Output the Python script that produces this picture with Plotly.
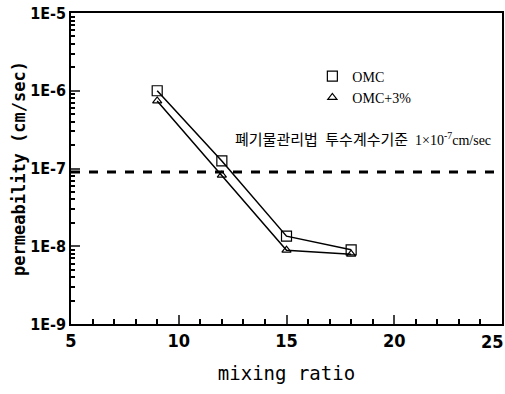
import plotly.graph_objects as go

mixing_ratio = [9, 12, 15, 18]
omc = [1.0e-6, 1.25e-7, 1.35e-8, 9.0e-9]
omc3 = [7.4e-7, 8.2e-8, 8.9e-9, 7.9e-9]
standard_x = [5, 25]
standard_y = [9.0e-8, 9.0e-8]
x_ticks = [5, 10, 15, 20, 25]
x_ticktext = ["5", "10", "15", "20", "25"]
y_tickvals = [1e-9, 1e-8, 1e-7, 1e-6, 1e-5]
y_ticktext = ["1E-9", "1E-8", "1E-7", "1E-6", "1E-5"]
y_minor = [m * 10.0 ** e for e in range(-9, -5) for m in range(2, 10)]

cond = "DejaVu Sans Condensed, Liberation Sans Narrow, Arial Narrow, sans-serif"
tickfont_x = dict(family=cond, size=18, color="black", weight="bold")

fig = go.Figure()
fig.add_trace(go.Scatter(x=standard_x, y=standard_y, mode="lines",
                         line=dict(color="black", width=3, dash="dash"),
                         showlegend=False))
fig.add_trace(go.Scatter(x=mixing_ratio, y=omc, mode="lines+markers", name="OMC",
                         line=dict(color="black", width=1.5), showlegend=False,
                         marker=dict(symbol="square-open", size=10, color="black",
                                     line=dict(width=1.2))))
fig.add_trace(go.Scatter(x=mixing_ratio, y=omc3, mode="lines+markers", name="OMC+3%",
                         line=dict(color="black", width=1.5), showlegend=False,
                         marker=dict(symbol="triangle-up-open", size=8, color="black",
                                     line=dict(width=1.2))))
# legend-only entries (markers only, as in the reference legend)
fig.add_trace(go.Scatter(x=[None], y=[None], mode="markers", name="OMC",
                         marker=dict(symbol="square-open", size=10, color="black",
                                     line=dict(width=1.2))))
fig.add_trace(go.Scatter(x=[None], y=[None], mode="markers", name="OMC+3%",
                         marker=dict(symbol="triangle-up-open", size=8, color="black",
                                     line=dict(width=1.2))))

fig.add_annotation(x=24.6, y=-6.62, xref="x", yref="y", xanchor="right", yanchor="middle",
                   text=("<span style='font-size:15px'>폐기물관리법 &nbsp;투수계수기준</span>"
                         " &nbsp;1×10<sup>-7</sup>cm/sec"),
                   showarrow=False,
                   font=dict(family="Liberation Serif, Noto Sans CJK KR, serif", size=14,
                             color="black"))

# last x tick label drawn inside the page (the axis ends at the page edge)
fig.add_annotation(x=x_ticks[-1], y=0, xref="x", yref="paper", xanchor="center",
                   xshift=-10, yanchor="top", yshift=-5, showarrow=False,
                   text=x_ticktext[-1], font=tickfont_x)

fig.update_layout(
    width=505, height=394,
    margin=dict(l=71, r=3, t=13, b=70),
    plot_bgcolor="white", paper_bgcolor="white",
    showlegend=True,
    legend=dict(x=0.56, y=0.847, xanchor="left", yanchor="top",
                bgcolor="rgba(0,0,0,0)",
                font=dict(family="Liberation Serif, Times New Roman, serif", size=14,
                          color="black"),
                itemwidth=30, tracegroupgap=0),
    xaxis=dict(range=[5, 25], tickvals=x_ticks[:-1], ticktext=x_ticktext[:-1],
               ticks="inside", ticklen=9, tickwidth=1.5, showgrid=False, zeroline=False,
               automargin=False, ticklabeloverflow="allow",
               showline=True, linecolor="black", linewidth=1.5, mirror=True,
               minor=dict(ticks="inside", ticklen=5, dtick=1, tickcolor="black",
                          showgrid=False),
               tickfont=tickfont_x,
               title=dict(text="mixing ratio", standoff=16,
                          font=dict(family="DejaVu Sans Mono, monospace", size=19,
                                    color="black"))),
    yaxis=dict(type="log", range=[-9, -5], tickvals=y_tickvals, ticktext=y_ticktext,
               ticks="inside", ticklen=9, tickwidth=1.5, showgrid=False,
               zeroline=False, showline=True, linecolor="black", linewidth=1.5,
               mirror=True, automargin=False, ticklabeloverflow="allow",
               minor=dict(ticks="inside", ticklen=4, tickcolor="black",
                          tickvals=y_minor, showgrid=False),
               tickfont=dict(family=cond, size=16, color="black", weight="bold"),
               title=dict(text="<b>permeability (cm/sec)</b>", standoff=0,
                          font=dict(family="DejaVu Sans Mono, monospace", size=17,
                                    color="black"))),
)

fig.write_html("out.html", config={"displayModeBar": False},
               post_script="document.body.style.margin='0';document.body.style.overflow='hidden';")
